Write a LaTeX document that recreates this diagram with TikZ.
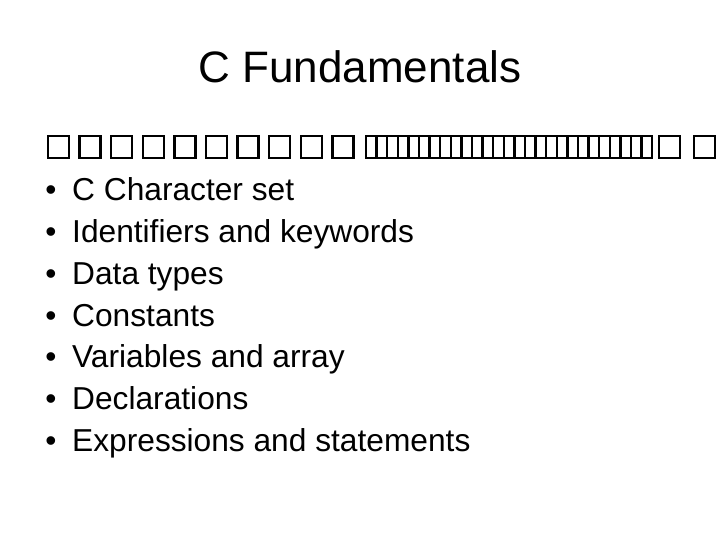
\documentclass[tikz,border=0pt]{standalone}
\usepackage{fontspec}
\setmainfont{Liberation Sans}
\begin{document}
\begin{tikzpicture}[x=1pt,y=-1pt,
  item/.style={anchor=base west,inner sep=0pt,font=\fontsize{31.7}{34}\selectfont},
  bul/.style={anchor=base,inner sep=0pt,font=\fontsize{31.7}{34}\selectfont},
  tofu/.style={draw=black,line width=2.3pt}]
\useasboundingbox (0,0) rectangle (720,540);
\node[anchor=base,inner sep=0pt,font=\fontsize{44}{48}\selectfont] (title) at (360,83) {C Fundamentals};
\foreach \i in {0,...,9} \draw[tofu] (48+31.6*\i,136) rectangle ++(21,22);
\foreach \i in {0,...,26} \draw[tofu] (366+10.6*\i,136) rectangle ++(10.6,22);
\foreach \x in {659,694} \draw[tofu] (\x,136) rectangle ++(21,22);
\foreach \t [count=\k from 0] in {C Character set,Identifiers and keywords,Data types,Constants,Variables and array,Declarations,Expressions and statements}{
  \node[bul] (b\k) at (51,201+41.7*\k) {•};
  \node[item] (t\k) at (72,201+41.7*\k) {\t};
}
\end{tikzpicture}
\end{document}
